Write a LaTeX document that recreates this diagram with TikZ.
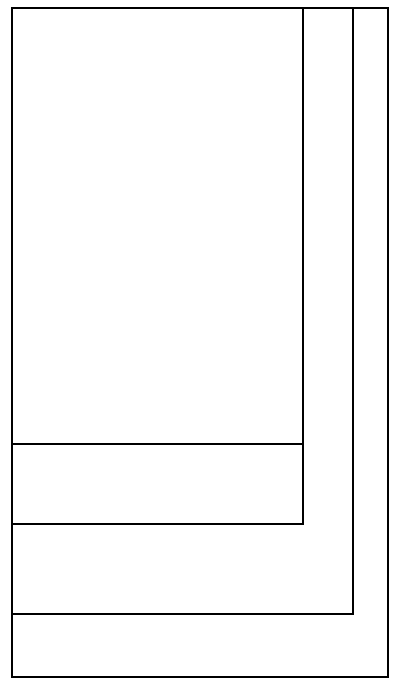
\documentclass[tikz,border=0pt]{standalone}
\begin{document}
\begin{tikzpicture}[x=0.03cm,y=-0.03cm,line width=1.6pt]
    \useasboundingbox (0,0) rectangle (400,682);
    % Outer frame
    \draw (12,8) rectangle (388,677);
    % Second frame
    \draw (12,8) rectangle (353,614);
    % Third frame
    \draw (12,8) rectangle (303,524);
    % Inner frame
    \draw (12,8) rectangle (303,444);
   \end{tikzpicture}
\end{document}
